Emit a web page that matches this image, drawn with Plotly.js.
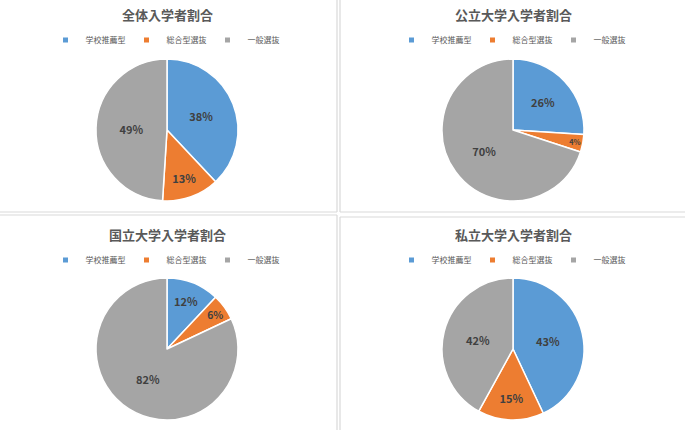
<!DOCTYPE html>
<html>
<head>
<meta charset="utf-8">
<script src="https://cdn.plot.ly/plotly-3.0.1.min.js"></script>
<style>
  html, body { margin: 0; padding: 0; background: #fff; }
  #chart { width: 685px; height: 430px; }
</style>
</head>
<body>
<div id="chart"></div>
<script>
// 入試区分ごとの入学者割合 (%)
const categories = ["学校推薦型", "総合型選抜", "一般選抜"];
const chartTitles = ["全体入学者割合", "公立大学入学者割合", "国立大学入学者割合", "私立大学入学者割合"];
const zentai = [38, 13, 49];
const kouritsu = [26, 4, 70];
const kokuritsu = [12, 6, 82];
const shiritsu = [43, 15, 42];

const colors = ["#5B9BD5", "#ED7D31", "#A5A5A5"];
const W = 685, H = 430;
const font = "'Noto Sans CJK JP', 'Noto Sans', sans-serif";

// panel layout in pixels: pie centre, radius, title and legend rows
const panels = [
    { values: zentai,    cx: 167, cy: 130, r: 71, titleY: 15,  legY: 40 },
    { values: kouritsu,  cx: 513, cy: 130, r: 71, titleY: 15,  legY: 40 },
    { values: kokuritsu, cx: 167, cy: 349, r: 71, titleY: 234, legY: 260 },
    { values: shiritsu,  cx: 513, cy: 349, r: 71, titleY: 234, legY: 260 }
];

const px = (x) => x / W;
const py = (y) => 1 - y / H;

let data = [];
let annotations = [];
let layout = {
    width: W, height: H,
    margin: { l: 0, r: 0, t: 0, b: 0 },
    paper_bgcolor: "#fff",
    plot_bgcolor: "rgba(0,0,0,0)",
    font: { family: font, color: "#595959" },
    showlegend: true,
    xaxis: { visible: false, fixedrange: true },
    yaxis: { visible: false, fixedrange: true }
};

panels.forEach((p, i) => {
    const legName = i === 0 ? "legend" : "legend" + (i + 1);
    data.push({
        type: "pie",
        labels: categories,
        values: p.values,
        sort: false,
        direction: "clockwise",
        rotation: 0,
        marker: { colors: colors, line: { color: "#fff", width: 1.5 } },
        texttemplate: "%{percent:.0%}",
        textposition: "inside",
        insidetextorientation: "horizontal",
        textfont: { family: font, size: 11, color: "#404040", weight: "bold" },
        hoverinfo: "label+percent",
        domain: { x: [px(p.cx - p.r), px(p.cx + p.r)], y: [py(p.cy + p.r), py(p.cy - p.r)] },
        showlegend: false
    });
    // one legend per chart: pie slices share a single legend, so the
    // entries come from empty marker traces bound to each legend
    categories.forEach((c, k) => {
        data.push({
            type: "scatter",
            mode: "markers",
            x: [null], y: [null],
            name: c,
            marker: { symbol: "square", size: 5, color: colors[k] },
            legend: legName,
            hoverinfo: "skip"
        });
    });
    layout[legName] = {
        orientation: "h",
        x: px(p.cx), xanchor: "center",
        y: py(p.legY), yanchor: "middle",
        font: { family: font, size: 8, color: "#595959" },
        itemwidth: 30,
        entrywidth: 36,
        itemclick: false,
        bgcolor: "rgba(0,0,0,0)"
    };
    annotations.push({
        text: chartTitles[i],
        xref: "paper", yref: "paper",
        x: px(p.cx), y: py(p.titleY),
        xanchor: "center", yanchor: "middle",
        showarrow: false,
        font: { family: font, size: 13, color: "#595959", weight: "bold" }
    });
});

layout.annotations = annotations;

// sheet gridlines between the chart boxes
const line = (x0, y0, x1, y1) => ({
    type: "line", xref: "paper", yref: "paper",
    x0: px(x0), y0: py(y0), x1: px(x1), y1: py(y1),
    line: { color: "#D9D9D9", width: 1.2 }
});
layout.shapes = [
    line(337, 0, 337, 212), line(0, 212, 337, 212),
    line(340, 0, 340, 212), line(340, 212, 685, 212),
    line(0, 215, 337, 215), line(337, 215, 337, 430),
    line(340, 217, 685, 217), line(340, 217, 340, 430)
];

Plotly.newPlot("chart", data, layout, { displayModeBar: false });
</script>
</body>
</html>
